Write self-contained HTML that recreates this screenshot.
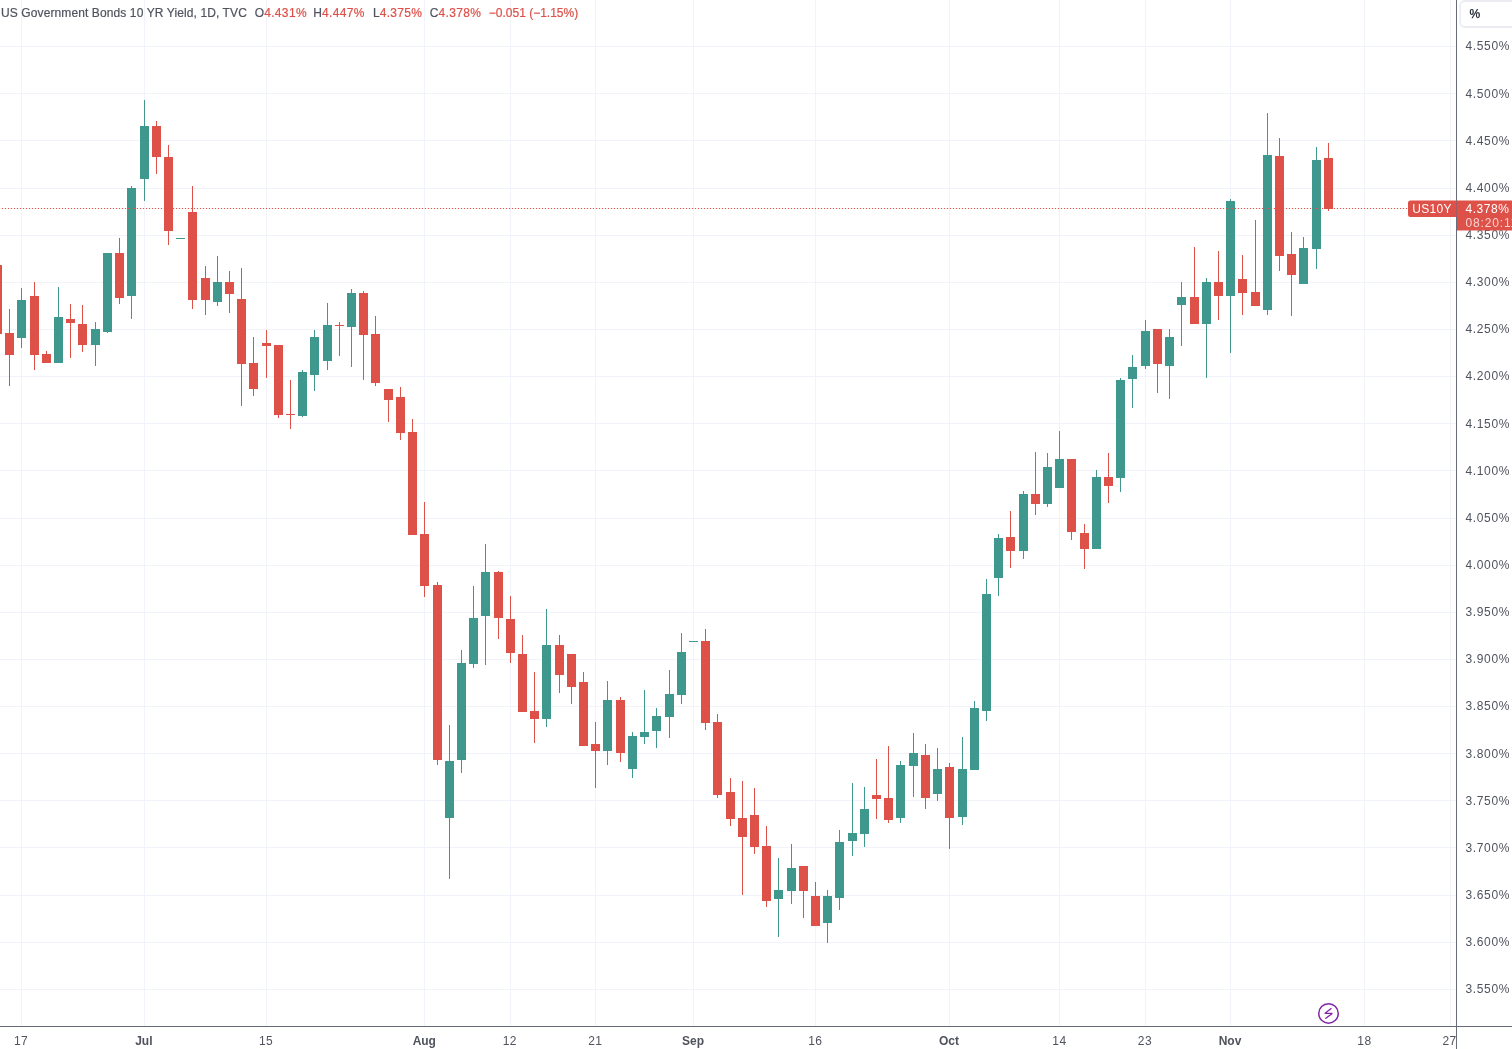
<!DOCTYPE html>
<html><head><meta charset="utf-8"><title>US10Y</title>
<style>
html,body{margin:0;padding:0;background:#fff;}
body{width:1512px;height:1049px;overflow:hidden;position:relative;font-family:"Liberation Sans",sans-serif;}
svg{position:absolute;left:0;top:0;display:block}
text{font-family:"Liberation Sans",sans-serif;}
.ax{font-size:12px;fill:#50535e;letter-spacing:0.63px}
.bx{font-size:12px;fill:#50535e;letter-spacing:0.4px}
.bx.b{font-weight:bold;letter-spacing:0px}
.hd{font-size:12px;fill:#50535e;letter-spacing:0.07px;stroke:#50535e;stroke-width:0.2px}
.hd .rd,.hd.rd{stroke:#dd5149}
.rd{fill:#dd5149}
tspan.rd{letter-spacing:0.33px}
.w{fill:#fff;font-size:12px}
</style></head><body>
<svg width="1512" height="1049" viewBox="0 0 1512 1049">
<g stroke="#f0f3fa" stroke-width="1">
<line x1="0" x2="1456.5" y1="46.50" y2="46.50"/>
<line x1="0" x2="1456.5" y1="93.50" y2="93.50"/>
<line x1="0" x2="1456.5" y1="140.50" y2="140.50"/>
<line x1="0" x2="1456.5" y1="188.50" y2="188.50"/>
<line x1="0" x2="1456.5" y1="235.50" y2="235.50"/>
<line x1="0" x2="1456.5" y1="282.50" y2="282.50"/>
<line x1="0" x2="1456.5" y1="329.50" y2="329.50"/>
<line x1="0" x2="1456.5" y1="376.50" y2="376.50"/>
<line x1="0" x2="1456.5" y1="423.50" y2="423.50"/>
<line x1="0" x2="1456.5" y1="470.50" y2="470.50"/>
<line x1="0" x2="1456.5" y1="518.50" y2="518.50"/>
<line x1="0" x2="1456.5" y1="565.50" y2="565.50"/>
<line x1="0" x2="1456.5" y1="612.50" y2="612.50"/>
<line x1="0" x2="1456.5" y1="659.50" y2="659.50"/>
<line x1="0" x2="1456.5" y1="706.50" y2="706.50"/>
<line x1="0" x2="1456.5" y1="753.50" y2="753.50"/>
<line x1="0" x2="1456.5" y1="800.50" y2="800.50"/>
<line x1="0" x2="1456.5" y1="847.50" y2="847.50"/>
<line x1="0" x2="1456.5" y1="895.50" y2="895.50"/>
<line x1="0" x2="1456.5" y1="942.50" y2="942.50"/>
<line x1="0" x2="1456.5" y1="989.50" y2="989.50"/>
<line x1="21.5" x2="21.5" y1="0" y2="1026.5"/>
<line x1="144.5" x2="144.5" y1="0" y2="1026.5"/>
<line x1="266.5" x2="266.5" y1="0" y2="1026.5"/>
<line x1="424.5" x2="424.5" y1="0" y2="1026.5"/>
<line x1="510.5" x2="510.5" y1="0" y2="1026.5"/>
<line x1="595.5" x2="595.5" y1="0" y2="1026.5"/>
<line x1="693.5" x2="693.5" y1="0" y2="1026.5"/>
<line x1="815.5" x2="815.5" y1="0" y2="1026.5"/>
<line x1="949.5" x2="949.5" y1="0" y2="1026.5"/>
<line x1="1059.5" x2="1059.5" y1="0" y2="1026.5"/>
<line x1="1145.5" x2="1145.5" y1="0" y2="1026.5"/>
<line x1="1230.5" x2="1230.5" y1="0" y2="1026.5"/>
<line x1="1364.5" x2="1364.5" y1="0" y2="1026.5"/>
<line x1="1450.5" x2="1450.5" y1="0" y2="1026.5"/>
</g>
<g>
<rect x="-3.0" y="265" width="1" height="69.00" fill="#dd5149"/>
<rect x="-7.0" y="265" width="9" height="69.00" fill="#dd5149"/>
<rect x="9.0" y="309" width="1" height="77.00" fill="#dd5149"/>
<rect x="5.0" y="333" width="9" height="22.00" fill="#dd5149"/>
<rect x="21.0" y="288" width="1" height="60.00" fill="#3f988d"/>
<rect x="17.0" y="300" width="9" height="38.00" fill="#3f988d"/>
<rect x="34.0" y="282" width="1" height="88.00" fill="#dd5149"/>
<rect x="30.0" y="296" width="9" height="59.00" fill="#dd5149"/>
<rect x="46.0" y="351" width="1" height="12.00" fill="#dd5149"/>
<rect x="42.0" y="354" width="9" height="9.00" fill="#dd5149"/>
<rect x="58.0" y="287" width="1" height="76.00" fill="#3f988d"/>
<rect x="54.0" y="317" width="9" height="46.00" fill="#3f988d"/>
<rect x="70.0" y="304" width="1" height="54.00" fill="#dd5149"/>
<rect x="66.0" y="319" width="9" height="4.00" fill="#dd5149"/>
<rect x="82.0" y="305" width="1" height="47.00" fill="#dd5149"/>
<rect x="78.0" y="324" width="9" height="21.00" fill="#dd5149"/>
<rect x="95.0" y="322" width="1" height="44.00" fill="#3f988d"/>
<rect x="91.0" y="329" width="9" height="16.00" fill="#3f988d"/>
<rect x="107.0" y="253" width="1" height="80.00" fill="#3f988d"/>
<rect x="103.0" y="253" width="9" height="79.00" fill="#3f988d"/>
<rect x="119.0" y="238" width="1" height="66.00" fill="#dd5149"/>
<rect x="115.0" y="253" width="9" height="45.00" fill="#dd5149"/>
<rect x="131.0" y="186" width="1" height="133.00" fill="#3f988d"/>
<rect x="127.0" y="188" width="9" height="108.00" fill="#3f988d"/>
<rect x="144.0" y="100" width="1" height="101.00" fill="#3f988d"/>
<rect x="140.0" y="126" width="9" height="53.00" fill="#3f988d"/>
<rect x="156.0" y="121" width="1" height="53.00" fill="#dd5149"/>
<rect x="152.0" y="126" width="9" height="31.00" fill="#dd5149"/>
<rect x="168.0" y="145" width="1" height="100.00" fill="#dd5149"/>
<rect x="164.0" y="157" width="9" height="74.00" fill="#dd5149"/>
<rect x="180.0" y="238" width="1" height="1.00" fill="#3f988d"/>
<rect x="176.0" y="238" width="9" height="1.00" fill="#3f988d"/>
<rect x="192.0" y="186" width="1" height="123.00" fill="#dd5149"/>
<rect x="188.0" y="212" width="9" height="88.00" fill="#dd5149"/>
<rect x="205.0" y="266" width="1" height="49.00" fill="#dd5149"/>
<rect x="201.0" y="278" width="9" height="22.00" fill="#dd5149"/>
<rect x="217.0" y="256" width="1" height="50.00" fill="#3f988d"/>
<rect x="213.0" y="282" width="9" height="20.00" fill="#3f988d"/>
<rect x="229.0" y="271" width="1" height="42.00" fill="#dd5149"/>
<rect x="225.0" y="282" width="9" height="12.00" fill="#dd5149"/>
<rect x="241.0" y="268" width="1" height="138.00" fill="#dd5149"/>
<rect x="237.0" y="299" width="9" height="65.00" fill="#dd5149"/>
<rect x="253.0" y="337" width="1" height="59.00" fill="#dd5149"/>
<rect x="249.0" y="363" width="9" height="26.00" fill="#dd5149"/>
<rect x="266.0" y="330" width="1" height="48.00" fill="#dd5149"/>
<rect x="262.0" y="343" width="9" height="3.00" fill="#dd5149"/>
<rect x="278.0" y="345" width="1" height="73.00" fill="#dd5149"/>
<rect x="274.0" y="345" width="9" height="70.00" fill="#dd5149"/>
<rect x="290.0" y="380" width="1" height="49.00" fill="#dd5149"/>
<rect x="286.0" y="414" width="9" height="1.00" fill="#dd5149"/>
<rect x="302.0" y="370" width="1" height="47.00" fill="#3f988d"/>
<rect x="298.0" y="372" width="9" height="44.00" fill="#3f988d"/>
<rect x="314.0" y="330" width="1" height="61.00" fill="#3f988d"/>
<rect x="310.0" y="337" width="9" height="38.00" fill="#3f988d"/>
<rect x="327.0" y="303" width="1" height="67.00" fill="#3f988d"/>
<rect x="323.0" y="325" width="9" height="36.00" fill="#3f988d"/>
<rect x="339.0" y="322" width="1" height="34.00" fill="#dd5149"/>
<rect x="335.0" y="325" width="9" height="1.00" fill="#dd5149"/>
<rect x="351.0" y="289" width="1" height="78.00" fill="#3f988d"/>
<rect x="347.0" y="293" width="9" height="34.00" fill="#3f988d"/>
<rect x="363.0" y="291" width="1" height="89.00" fill="#dd5149"/>
<rect x="359.0" y="293" width="9" height="42.00" fill="#dd5149"/>
<rect x="375.0" y="316" width="1" height="70.00" fill="#dd5149"/>
<rect x="371.0" y="334" width="9" height="49.00" fill="#dd5149"/>
<rect x="388.0" y="389" width="1" height="33.00" fill="#dd5149"/>
<rect x="384.0" y="389" width="9" height="11.00" fill="#dd5149"/>
<rect x="400.0" y="387" width="1" height="53.00" fill="#dd5149"/>
<rect x="396.0" y="397" width="9" height="36.00" fill="#dd5149"/>
<rect x="412.0" y="419" width="1" height="116.00" fill="#dd5149"/>
<rect x="408.0" y="432" width="9" height="103.00" fill="#dd5149"/>
<rect x="424.0" y="502" width="1" height="95.00" fill="#dd5149"/>
<rect x="420.0" y="534" width="9" height="52.00" fill="#dd5149"/>
<rect x="437.0" y="582" width="1" height="183.00" fill="#dd5149"/>
<rect x="433.0" y="585" width="9" height="175.00" fill="#dd5149"/>
<rect x="449.0" y="725" width="1" height="154.00" fill="#3f988d"/>
<rect x="445.0" y="761" width="9" height="57.00" fill="#3f988d"/>
<rect x="461.0" y="650" width="1" height="123.00" fill="#3f988d"/>
<rect x="457.0" y="663" width="9" height="97.00" fill="#3f988d"/>
<rect x="473.0" y="586" width="1" height="82.00" fill="#3f988d"/>
<rect x="469.0" y="618" width="9" height="46.00" fill="#3f988d"/>
<rect x="485.0" y="544" width="1" height="121.00" fill="#3f988d"/>
<rect x="481.0" y="572" width="9" height="44.00" fill="#3f988d"/>
<rect x="498.0" y="571" width="1" height="68.00" fill="#dd5149"/>
<rect x="494.0" y="572" width="9" height="46.00" fill="#dd5149"/>
<rect x="510.0" y="596" width="1" height="67.00" fill="#dd5149"/>
<rect x="506.0" y="619" width="9" height="34.00" fill="#dd5149"/>
<rect x="522.0" y="635" width="1" height="77.00" fill="#dd5149"/>
<rect x="518.0" y="654" width="9" height="58.00" fill="#dd5149"/>
<rect x="534.0" y="672" width="1" height="71.00" fill="#dd5149"/>
<rect x="530.0" y="711" width="9" height="8.00" fill="#dd5149"/>
<rect x="546.0" y="609" width="1" height="118.00" fill="#3f988d"/>
<rect x="542.0" y="645" width="9" height="74.00" fill="#3f988d"/>
<rect x="559.0" y="635" width="1" height="58.00" fill="#dd5149"/>
<rect x="555.0" y="645" width="9" height="30.00" fill="#dd5149"/>
<rect x="571.0" y="654" width="1" height="50.00" fill="#dd5149"/>
<rect x="567.0" y="654" width="9" height="33.00" fill="#dd5149"/>
<rect x="583.0" y="672" width="1" height="74.00" fill="#dd5149"/>
<rect x="579.0" y="682" width="9" height="64.00" fill="#dd5149"/>
<rect x="595.0" y="722" width="1" height="66.00" fill="#dd5149"/>
<rect x="591.0" y="744" width="9" height="7.00" fill="#dd5149"/>
<rect x="607.0" y="681" width="1" height="84.00" fill="#3f988d"/>
<rect x="603.0" y="700" width="9" height="51.00" fill="#3f988d"/>
<rect x="620.0" y="697" width="1" height="65.00" fill="#dd5149"/>
<rect x="616.0" y="700" width="9" height="53.00" fill="#dd5149"/>
<rect x="632.0" y="732" width="1" height="46.00" fill="#3f988d"/>
<rect x="628.0" y="736" width="9" height="33.00" fill="#3f988d"/>
<rect x="644.0" y="690" width="1" height="54.00" fill="#3f988d"/>
<rect x="640.0" y="732" width="9" height="5.00" fill="#3f988d"/>
<rect x="656.0" y="708" width="1" height="40.00" fill="#3f988d"/>
<rect x="652.0" y="716" width="9" height="15.00" fill="#3f988d"/>
<rect x="669.0" y="670" width="1" height="68.00" fill="#3f988d"/>
<rect x="665.0" y="694" width="9" height="23.00" fill="#3f988d"/>
<rect x="681.0" y="633" width="1" height="71.00" fill="#3f988d"/>
<rect x="677.0" y="652" width="9" height="43.00" fill="#3f988d"/>
<rect x="693.0" y="641" width="1" height="1.00" fill="#3f988d"/>
<rect x="689.0" y="641" width="9" height="1.00" fill="#3f988d"/>
<rect x="705.0" y="629" width="1" height="101.00" fill="#dd5149"/>
<rect x="701.0" y="641" width="9" height="82.00" fill="#dd5149"/>
<rect x="717.0" y="714" width="1" height="84.00" fill="#dd5149"/>
<rect x="713.0" y="722" width="9" height="73.00" fill="#dd5149"/>
<rect x="730.0" y="778" width="1" height="48.00" fill="#dd5149"/>
<rect x="726.0" y="792" width="9" height="27.00" fill="#dd5149"/>
<rect x="742.0" y="781" width="1" height="114.00" fill="#dd5149"/>
<rect x="738.0" y="818" width="9" height="19.00" fill="#dd5149"/>
<rect x="754.0" y="788" width="1" height="66.00" fill="#dd5149"/>
<rect x="750.0" y="815" width="9" height="32.00" fill="#dd5149"/>
<rect x="766.0" y="826" width="1" height="81.00" fill="#dd5149"/>
<rect x="762.0" y="846" width="9" height="55.00" fill="#dd5149"/>
<rect x="778.0" y="858" width="1" height="79.00" fill="#3f988d"/>
<rect x="774.0" y="890" width="9" height="9.00" fill="#3f988d"/>
<rect x="791.0" y="844" width="1" height="60.00" fill="#3f988d"/>
<rect x="787.0" y="868" width="9" height="23.00" fill="#3f988d"/>
<rect x="803.0" y="866" width="1" height="52.00" fill="#dd5149"/>
<rect x="799.0" y="866" width="9" height="25.00" fill="#dd5149"/>
<rect x="815.0" y="882" width="1" height="44.00" fill="#dd5149"/>
<rect x="811.0" y="896" width="9" height="30.00" fill="#dd5149"/>
<rect x="827.0" y="890" width="1" height="53.00" fill="#3f988d"/>
<rect x="823.0" y="896" width="9" height="27.00" fill="#3f988d"/>
<rect x="839.0" y="830" width="1" height="80.00" fill="#3f988d"/>
<rect x="835.0" y="842" width="9" height="56.00" fill="#3f988d"/>
<rect x="852.0" y="783" width="1" height="73.00" fill="#3f988d"/>
<rect x="848.0" y="833" width="9" height="8.00" fill="#3f988d"/>
<rect x="864.0" y="787" width="1" height="60.00" fill="#3f988d"/>
<rect x="860.0" y="809" width="9" height="25.00" fill="#3f988d"/>
<rect x="876.0" y="759" width="1" height="60.00" fill="#dd5149"/>
<rect x="872.0" y="795" width="9" height="4.00" fill="#dd5149"/>
<rect x="888.0" y="746" width="1" height="77.00" fill="#dd5149"/>
<rect x="884.0" y="798" width="9" height="22.00" fill="#dd5149"/>
<rect x="900.0" y="761" width="1" height="62.00" fill="#3f988d"/>
<rect x="896.0" y="765" width="9" height="53.00" fill="#3f988d"/>
<rect x="913.0" y="733" width="1" height="64.00" fill="#3f988d"/>
<rect x="909.0" y="753" width="9" height="13.00" fill="#3f988d"/>
<rect x="925.0" y="744" width="1" height="65.00" fill="#dd5149"/>
<rect x="921.0" y="755" width="9" height="43.00" fill="#dd5149"/>
<rect x="937.0" y="748" width="1" height="53.00" fill="#3f988d"/>
<rect x="933.0" y="769" width="9" height="25.00" fill="#3f988d"/>
<rect x="949.0" y="763" width="1" height="86.00" fill="#dd5149"/>
<rect x="945.0" y="767" width="9" height="51.00" fill="#dd5149"/>
<rect x="962.0" y="737" width="1" height="88.00" fill="#3f988d"/>
<rect x="958.0" y="769" width="9" height="48.00" fill="#3f988d"/>
<rect x="974.0" y="701" width="1" height="69.00" fill="#3f988d"/>
<rect x="970.0" y="708" width="9" height="62.00" fill="#3f988d"/>
<rect x="986.0" y="579" width="1" height="142.00" fill="#3f988d"/>
<rect x="982.0" y="594" width="9" height="117.00" fill="#3f988d"/>
<rect x="998.0" y="534" width="1" height="62.00" fill="#3f988d"/>
<rect x="994.0" y="538" width="9" height="40.00" fill="#3f988d"/>
<rect x="1010.0" y="511" width="1" height="57.00" fill="#dd5149"/>
<rect x="1006.0" y="537" width="9" height="14.00" fill="#dd5149"/>
<rect x="1023.0" y="491" width="1" height="68.00" fill="#3f988d"/>
<rect x="1019.0" y="494" width="9" height="57.00" fill="#3f988d"/>
<rect x="1035.0" y="452" width="1" height="63.00" fill="#dd5149"/>
<rect x="1031.0" y="494" width="9" height="10.00" fill="#dd5149"/>
<rect x="1047.0" y="453" width="1" height="54.00" fill="#3f988d"/>
<rect x="1043.0" y="467" width="9" height="37.00" fill="#3f988d"/>
<rect x="1059.0" y="431" width="1" height="57.00" fill="#3f988d"/>
<rect x="1055.0" y="459" width="9" height="29.00" fill="#3f988d"/>
<rect x="1071.0" y="459" width="1" height="81.00" fill="#dd5149"/>
<rect x="1067.0" y="459" width="9" height="73.00" fill="#dd5149"/>
<rect x="1084.0" y="524" width="1" height="45.00" fill="#dd5149"/>
<rect x="1080.0" y="533" width="9" height="16.00" fill="#dd5149"/>
<rect x="1096.0" y="470" width="1" height="79.00" fill="#3f988d"/>
<rect x="1092.0" y="477" width="9" height="72.00" fill="#3f988d"/>
<rect x="1108.0" y="453" width="1" height="50.00" fill="#dd5149"/>
<rect x="1104.0" y="477" width="9" height="9.00" fill="#dd5149"/>
<rect x="1120.0" y="378" width="1" height="114.00" fill="#3f988d"/>
<rect x="1116.0" y="380" width="9" height="98.00" fill="#3f988d"/>
<rect x="1132.0" y="355" width="1" height="53.00" fill="#3f988d"/>
<rect x="1128.0" y="367" width="9" height="12.00" fill="#3f988d"/>
<rect x="1145.0" y="320" width="1" height="49.00" fill="#3f988d"/>
<rect x="1141.0" y="331" width="9" height="35.00" fill="#3f988d"/>
<rect x="1157.0" y="329" width="1" height="64.00" fill="#dd5149"/>
<rect x="1153.0" y="329" width="9" height="35.00" fill="#dd5149"/>
<rect x="1169.0" y="329" width="1" height="70.00" fill="#3f988d"/>
<rect x="1165.0" y="337" width="9" height="29.00" fill="#3f988d"/>
<rect x="1181.0" y="282" width="1" height="64.00" fill="#3f988d"/>
<rect x="1177.0" y="297" width="9" height="8.00" fill="#3f988d"/>
<rect x="1194.0" y="247" width="1" height="77.00" fill="#dd5149"/>
<rect x="1190.0" y="297" width="9" height="27.00" fill="#dd5149"/>
<rect x="1206.0" y="278" width="1" height="100.00" fill="#3f988d"/>
<rect x="1202.0" y="282" width="9" height="42.00" fill="#3f988d"/>
<rect x="1218.0" y="251" width="1" height="69.00" fill="#dd5149"/>
<rect x="1214.0" y="282" width="9" height="14.00" fill="#dd5149"/>
<rect x="1230.0" y="199" width="1" height="154.00" fill="#3f988d"/>
<rect x="1226.0" y="201" width="9" height="95.00" fill="#3f988d"/>
<rect x="1242.0" y="255" width="1" height="60.00" fill="#dd5149"/>
<rect x="1238.0" y="279" width="9" height="14.00" fill="#dd5149"/>
<rect x="1255.0" y="220" width="1" height="86.00" fill="#dd5149"/>
<rect x="1251.0" y="292" width="9" height="14.00" fill="#dd5149"/>
<rect x="1267.0" y="113" width="1" height="202.00" fill="#3f988d"/>
<rect x="1263.0" y="155" width="9" height="155.00" fill="#3f988d"/>
<rect x="1279.0" y="138" width="1" height="133.00" fill="#dd5149"/>
<rect x="1275.0" y="156" width="9" height="100.00" fill="#dd5149"/>
<rect x="1291.0" y="232" width="1" height="84.00" fill="#dd5149"/>
<rect x="1287.0" y="254" width="9" height="21.00" fill="#dd5149"/>
<rect x="1303.0" y="237" width="1" height="47.00" fill="#3f988d"/>
<rect x="1299.0" y="248" width="9" height="36.00" fill="#3f988d"/>
<rect x="1316.0" y="147" width="1" height="122.00" fill="#3f988d"/>
<rect x="1312.0" y="160" width="9" height="89.00" fill="#3f988d"/>
<rect x="1328.0" y="143" width="1" height="68.00" fill="#dd5149"/>
<rect x="1324.0" y="158" width="9" height="51.00" fill="#dd5149"/>
</g>
<line x1="-1.1" x2="1408" y1="208.5" y2="208.5" stroke="#dd5149" stroke-width="1.2" stroke-dasharray="1.2 1.8"/>
<rect x="1457" y="0" width="55" height="1049" fill="#fff"/>
<rect x="0" y="1027.0" width="1512" height="22.5" fill="#fff"/>
<line x1="0" x2="1512" y1="1026.5" y2="1026.5" stroke="#686b78" stroke-width="1"/>
<line x1="1456.5" x2="1456.5" y1="0" y2="1049" stroke="#686b78" stroke-width="1"/>
<!-- clip for 27 label -->
<defs><clipPath id="cb"><rect x="0" y="1027" width="1456" height="22"/></clipPath></defs>
<g clip-path="url(#cb)">
<text x="21.1" y="1045" text-anchor="middle" class="bx">17</text>
<text x="143.8" y="1045" text-anchor="middle" class="bx b">Jul</text>
<text x="266" y="1045" text-anchor="middle" class="bx">15</text>
<text x="424.3" y="1045" text-anchor="middle" class="bx b">Aug</text>
<text x="509.8" y="1045" text-anchor="middle" class="bx">12</text>
<text x="595.3" y="1045" text-anchor="middle" class="bx">21</text>
<text x="693" y="1045" text-anchor="middle" class="bx b">Sep</text>
<text x="815.3" y="1045" text-anchor="middle" class="bx">16</text>
<text x="949" y="1045" text-anchor="middle" class="bx b">Oct</text>
<text x="1059.4" y="1045" text-anchor="middle" class="bx">14</text>
<text x="1144.9" y="1045" text-anchor="middle" class="bx">23</text>
<text x="1230" y="1045" text-anchor="middle" class="bx b">Nov</text>
<text x="1364.4" y="1045" text-anchor="middle" class="bx">18</text>
<text x="1449.6" y="1045" text-anchor="middle" class="bx">27</text>
</g>
<text x="1465.5" y="49.80" class="ax">4.550%</text>
<text x="1465.5" y="97.80" class="ax">4.500%</text>
<text x="1465.5" y="144.80" class="ax">4.450%</text>
<text x="1465.5" y="191.80" class="ax">4.400%</text>
<text x="1465.5" y="238.80" class="ax">4.350%</text>
<text x="1465.5" y="285.80" class="ax">4.300%</text>
<text x="1465.5" y="332.80" class="ax">4.250%</text>
<text x="1465.5" y="379.80" class="ax">4.200%</text>
<text x="1465.5" y="427.80" class="ax">4.150%</text>
<text x="1465.5" y="474.80" class="ax">4.100%</text>
<text x="1465.5" y="521.80" class="ax">4.050%</text>
<text x="1465.5" y="568.80" class="ax">4.000%</text>
<text x="1465.5" y="615.80" class="ax">3.950%</text>
<text x="1465.5" y="662.80" class="ax">3.900%</text>
<text x="1465.5" y="709.80" class="ax">3.850%</text>
<text x="1465.5" y="757.80" class="ax">3.800%</text>
<text x="1465.5" y="804.80" class="ax">3.750%</text>
<text x="1465.5" y="851.80" class="ax">3.700%</text>
<text x="1465.5" y="898.80" class="ax">3.650%</text>
<text x="1465.5" y="945.80" class="ax">3.600%</text>
<text x="1465.5" y="992.80" class="ax">3.550%</text>
<!-- last price labels -->
<path d="M1410.5 200.5H1456.5V217H1410.5a2.5 2.5 0 0 1-2.5-2.5V203a2.5 2.5 0 0 1 2.5-2.5z" fill="#dd5149"/>
<text x="1412.3" y="213" class="w" id="sym" style="letter-spacing:0.28px">US10Y</text>
<rect x="1457" y="200.5" width="55" height="30" fill="#dd5149"/>
<text x="1465.5" y="213" class="w" style="letter-spacing:0.55px">4.378%</text>
<text x="1465.5" y="227" class="w" style="letter-spacing:0.85px;fill-opacity:0.75">08:20:11</text>
<!-- % button -->
<rect x="1460.2" y="1" width="60" height="26" rx="4.5" fill="#fff" stroke="#ebedf2" stroke-width="1.8"/>
<text x="1469.6" y="18" style="font-size:12px;fill:#131722;stroke:#131722;stroke-width:0.25px">%</text>
<!-- lightning icon -->
<g fill="none" stroke="#8324a8" stroke-width="1.5">
<circle cx="1328.5" cy="1013.4" r="9.75"/>
<path d="M1331.1 1008.6 L1324.8 1013.4 L1332.3 1013.4 L1325.8 1018.3" stroke-width="1.3" stroke-linejoin="bevel" stroke-linecap="round"/>
</g>
<!-- header -->
<text x="1" y="16.6" class="hd" id="h1" style="letter-spacing:0.106px">US Government Bonds 10 YR Yield, 1D, TVC</text>
<text x="254.8" y="16.6" class="hd">O<tspan class="rd" id="o">4.431%</tspan></text>
<text x="313.3" y="16.6" class="hd">H<tspan class="rd">4.447%</tspan></text>
<text x="372.9" y="16.6" class="hd">L<tspan class="rd">4.375%</tspan></text>
<text x="429.8" y="16.6" class="hd">C<tspan class="rd">4.378%</tspan></text>
<text x="488.8" y="16.6" class="hd rd" id="chg" style="letter-spacing:0">−0.051 (−1.15%)</text>
</svg>
</body></html>
